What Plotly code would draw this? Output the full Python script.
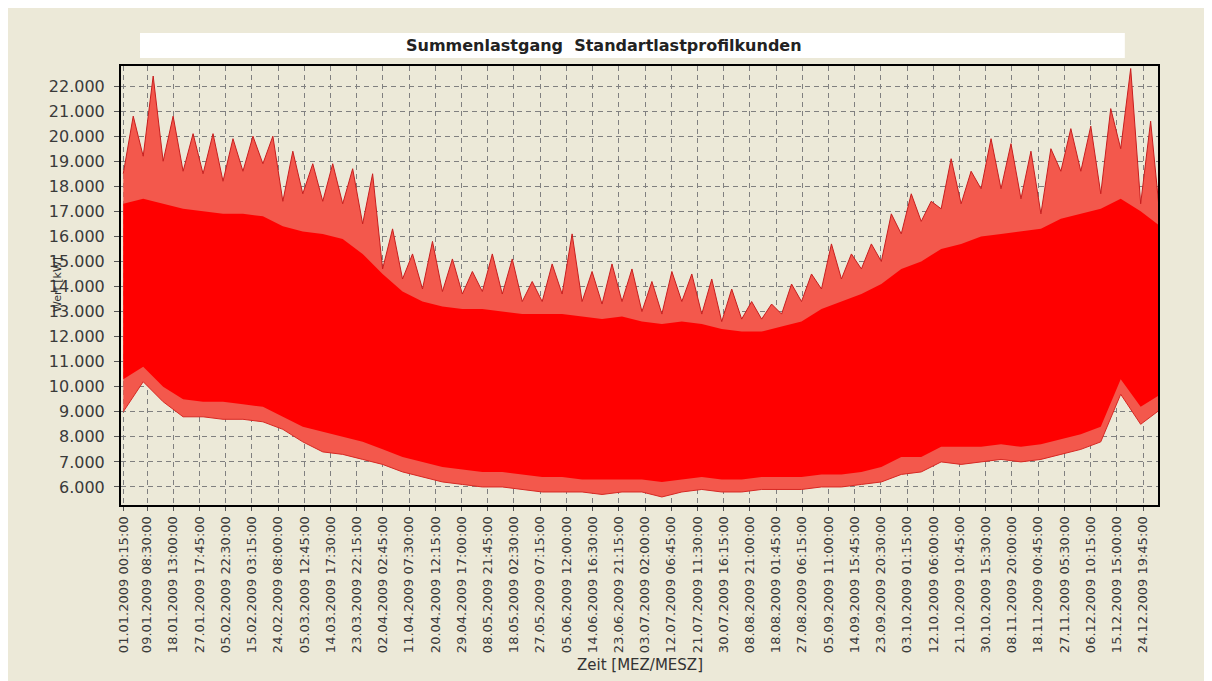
import pandas as pd
import plotly.graph_objects as go

# weekly readings (week k starts 2009-01-01 + 7k days), load in kW
week_start = pd.date_range("2009-01-01", periods=53, freq="7D")

# highest spikes of each week (weekday peaks)
peak_kw = [
    20800, 22400, 20800, 20100, 20100, 19900, 20000, 20000, 19400, 18900,
    18900, 18700, 18500, 16300, 15300, 15800, 15100, 14600, 15300, 15100,
    14200, 14900, 16100, 14600, 14900, 14700, 14200, 14600, 14500, 14300,
    13900, 13400, 13300, 14100, 14500, 15700, 15300, 15700, 16900, 17700,
    17400, 19100, 18600, 19900, 19700, 19400, 19500, 20300, 20400, 21100,
    22700, 20600, 18700,
]
# top of the weekend dips between the peaks
dip_kw = [
    18500, 19200, 19000, 18600, 18500, 18200, 18600, 18900, 17400, 17700,
    17400, 17300, 16500, 14700, 14300, 13900, 13800, 13700, 13800, 13700,
    13400, 13400, 13700, 13400, 13300, 13400, 13000, 12900, 13400, 12900,
    12600, 12700, 12700, 12900, 13400, 13900, 14300, 14700, 15000, 16100,
    16600, 17100, 17300, 17900, 17900, 17500, 16900, 18600, 18600, 17700,
    19500, 17300, 16500,
]
# dense core of the load band
core_top_kw = [
    17300, 17500, 17300, 17100, 17000, 16900, 16900, 16800, 16400, 16200,
    16100, 15900, 15300, 14500, 13800, 13400, 13200, 13100, 13100, 13000,
    12900, 12900, 12900, 12800, 12700, 12800, 12600, 12500, 12600, 12500,
    12300, 12200, 12200, 12400, 12600, 13100, 13400, 13700, 14100, 14700,
    15000, 15500, 15700, 16000, 16100, 16200, 16300, 16700, 16900, 17100,
    17500, 17000, 16400,
]
core_bottom_kw = [
    10300, 10800, 10000, 9500, 9400, 9400, 9300, 9200, 8800, 8400,
    8200, 8000, 7800, 7500, 7200, 7000, 6800, 6700, 6600, 6600,
    6500, 6400, 6400, 6300, 6300, 6300, 6300, 6200, 6300, 6400,
    6300, 6300, 6400, 6400, 6400, 6500, 6500, 6600, 6800, 7200,
    7200, 7600, 7600, 7600, 7700, 7600, 7700, 7900, 8100, 8400,
    10300, 9200, 9700,
]
# lowest spikes of each week (night / weekend minima)
min_kw = [
    9000, 10200, 9400, 8800, 8800, 8700, 8700, 8600, 8300, 7800,
    7400, 7300, 7100, 6900, 6600, 6400, 6200, 6100, 6000, 6000,
    5900, 5800, 5800, 5800, 5700, 5800, 5800, 5600, 5800, 5900,
    5800, 5800, 5900, 5900, 5900, 6000, 6000, 6100, 6200, 6500,
    6600, 7000, 6900, 7000, 7100, 7000, 7100, 7300, 7500, 7800,
    9700, 8500, 9100,
]

tick_labels = [
    "01.01.2009 00:15:00", "09.01.2009 08:30:00", "18.01.2009 13:00:00",
    "27.01.2009 17:45:00", "05.02.2009 22:30:00", "15.02.2009 03:15:00",
    "24.02.2009 08:00:00", "05.03.2009 12:45:00", "14.03.2009 17:30:00",
    "23.03.2009 22:15:00", "02.04.2009 02:45:00", "11.04.2009 07:30:00",
    "20.04.2009 12:15:00", "29.04.2009 17:00:00", "08.05.2009 21:45:00",
    "18.05.2009 02:30:00", "27.05.2009 07:15:00", "05.06.2009 12:00:00",
    "14.06.2009 16:30:00", "23.06.2009 21:15:00", "03.07.2009 02:00:00",
    "12.07.2009 06:45:00", "21.07.2009 11:30:00", "30.07.2009 16:15:00",
    "08.08.2009 21:00:00", "18.08.2009 01:45:00", "27.08.2009 06:15:00",
    "05.09.2009 11:00:00", "14.09.2009 15:45:00", "23.09.2009 20:30:00",
    "03.10.2009 01:15:00", "12.10.2009 06:00:00", "21.10.2009 10:45:00",
    "30.10.2009 15:30:00", "08.11.2009 20:00:00", "18.11.2009 00:45:00",
    "27.11.2009 05:30:00", "06.12.2009 10:15:00", "15.12.2009 15:00:00",
    "24.12.2009 19:45:00",
]
tick_vals = pd.to_datetime(tick_labels, format="%d.%m.%Y %H:%M:%S")
y_ticks = list(range(6000, 23000, 1000))

# upper edge: weekend dip at week start, weekday peak mid-week
upper_x, upper_y = [], []
for ws, d, p in zip(week_start, dip_kw, peak_kw):
    upper_x += [ws, ws + pd.Timedelta(hours=84)]
    upper_y += [d, p]

light_red = "rgb(243,88,76)"
traces = [
    go.Scatter(x=week_start, y=min_kw, mode="lines",
               line=dict(width=1, color="rgb(215,40,35)"), hoverinfo="skip"),
    go.Scatter(x=upper_x, y=upper_y, mode="lines", fill="tonexty",
               fillcolor=light_red, line=dict(width=1, color="rgb(200,30,30)"),
               name="Summenlastgang"),
    go.Scatter(x=week_start, y=core_bottom_kw, mode="lines",
               line=dict(width=0, color="#ff0000"), hoverinfo="skip"),
    go.Scatter(x=week_start, y=core_top_kw, mode="lines", fill="tonexty",
               fillcolor="#ff0000", line=dict(width=0, color="#ff0000"),
               hoverinfo="skip"),
]

fig = go.Figure(data=traces)

bg = "#ECE9D8"
fig.update_layout(
    width=1212,
    height=681,
    margin=dict(l=113, r=62, t=58, b=184),
    paper_bgcolor=bg,
    plot_bgcolor=bg,
    showlegend=False,
    separators=",.",
    font=dict(family="DejaVu Sans", size=13, color="#333333"),
)

fig.update_xaxes(
    type="date",
    range=["2008-12-31 05:00", "2009-12-30 02:00"],
    tickmode="array",
    tickvals=tick_vals,
    ticktext=tick_labels,
    tickangle=-90,
    tickfont=dict(family="DejaVu Sans", size=13, color="#3a3a3a"),
    ticks="outside",
    ticklen=4,
    tickcolor="#555555",
    showgrid=True,
    gridcolor="#808080",
    griddash="5px,4px",
    gridwidth=1,
    showline=True,
    linecolor="black",
    linewidth=2,
    mirror=True,
    zeroline=False,
)
fig.update_yaxes(
    range=[5280, 22800],
    tickmode="array",
    tickvals=y_ticks,
    tickformat=",d",
    tickfont=dict(family="DejaVu Sans", size=16, color="#3a3a3a"),
    ticks="outside",
    ticklen=5,
    tickcolor="#555555",
    ticklabelstandoff=6,
    showgrid=True,
    gridcolor="#808080",
    griddash="5px,4px",
    gridwidth=1,
    showline=True,
    linecolor="black",
    linewidth=2,
    mirror=True,
    zeroline=False,
)

# white title box above the plot
fig.add_shape(type="rect", xref="paper", yref="paper",
              x0=0.0183, x1=0.968, y0=1.018, y1=1.075,
              fillcolor="white", line=dict(width=0), layer="below")

fig.add_annotation(text="<b>Summenlastgang  Standartlastprofilkunden</b>",
                   xref="paper", yref="paper", x=0.4658, y=1.0467,
                   showarrow=False, xanchor="center", yanchor="middle",
                   font=dict(family="DejaVu Sans", size=16, color="#222222"))
fig.add_annotation(text="Wert [kW]", xref="paper", yref="paper",
                   x=-0.0617, y=0.501, textangle=-90, showarrow=False,
                   xanchor="center", yanchor="middle",
                   font=dict(family="DejaVu Sans", size=11, color="#333333"))
fig.add_annotation(text="Zeit [MEZ/MESZ]", xref="paper", yref="paper",
                   x=0.5, y=-0.3645, showarrow=False,
                   xanchor="center", yanchor="middle",
                   font=dict(family="DejaVu Sans", size=15, color="#333333"))

fig.write_html("out.html")
